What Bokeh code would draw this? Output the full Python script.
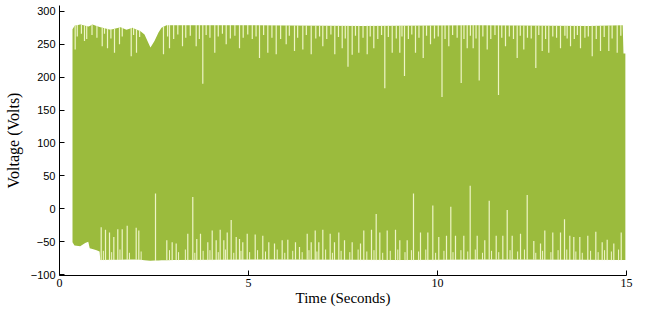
import numpy as np
from bokeh.plotting import figure
from bokeh.models import FixedTicker, Range1d, ColumnDataSource
from bokeh.embed import file_html
from bokeh.resources import INLINE

# ---- data ----
upper_t = [0.344, 0.397, 0.556, 0.767, 0.873, 1.085, 1.349, 1.614, 1.772, 1.931, 2.143,
           2.249, 2.407, 2.513, 2.619, 2.698, 2.831, 5.0, 8.0, 11.0, 14.0, 14.90, 14.92, 14.97]
upper_v = [273, 278, 280, 277, 280, 276, 272, 276, 272, 275, 270,
           265, 245, 255, 268, 275, 279, 279, 278, 279, 278, 279, 236, 236]

lower_t = [0.344, 0.40, 0.55, 0.68, 0.76, 0.80, 0.98, 1.06, 1.08, 2.0, 2.4, 3.0, 6.0, 9.0, 12.0, 14.97]
lower_v = [-51, -56, -57, -52, -50, -60, -63, -65, -78, -77, -79, -78, -77, -78, -77, -78]

top_dip_t = [0.415, 0.661, 1.130, 1.270, 1.455, 1.587, 1.897, 2.037, 2.751, 2.910, 3.254,
             3.616, 3.791, 4.108, 4.410, 4.762, 5.291, 5.511, 5.733, 5.997, 6.217, 6.437,
             6.659, 6.966, 7.283, 7.479, 7.632, 7.743, 7.918, 8.140, 8.315, 8.606, 8.802,
             9.003, 9.127, 9.418, 9.622, 9.815, 10.119, 10.299, 10.627, 10.786, 10.944,
             11.103, 11.315, 11.614, 11.799, 12.108, 12.283, 12.601, 12.770, 12.944,
             13.254, 13.519, 13.783, 14.093, 14.312, 14.532, 14.754]
top_dip_v = [242, 255, 247, 244, 237, 250, 232, 237, 235, 244, 247,
             247, 190, 237, 250, 244, 229, 237, 235, 250, 240, 242,
             235, 247, 235, 244, 216, 234, 237, 235, 244, 183, 237,
             237, 202, 237, 229, 250, 170, 247, 191, 244, 244,
             195, 242, 173, 247, 229, 242, 214, 240, 237,
             244, 247, 244, 232, 240, 240, 237]

minor_top_t = [0.47, 0.58, 0.72, 0.86, 0.99, 1.19, 1.36, 1.66, 1.96, 2.12, 2.86, 3.02, 3.13,
               3.34, 3.46, 3.70, 3.88, 3.98, 4.20, 4.31, 4.52, 4.64, 4.86, 4.98, 5.10, 5.20,
               5.40, 5.62, 5.85, 6.08, 6.30, 6.53, 6.78, 6.88, 7.07, 7.18, 7.38, 7.56, 7.83,
               8.03, 8.22, 8.42, 8.52, 8.70, 8.91, 9.06, 9.23, 9.32, 9.51, 9.71, 9.92, 10.02,
               10.20, 10.40, 10.52, 10.70, 10.87, 11.02, 11.20, 11.41, 11.52, 11.70, 11.90,
               12.01, 12.19, 12.38, 12.48, 12.68, 12.86, 13.05, 13.15, 13.37, 13.43, 13.62,
               13.70, 13.90, 13.99, 14.20, 14.41, 14.62, 14.85]
minor_top_v = [262, 266, 258, 264, 260, 266, 259, 262, 264, 261, 262, 258, 265,
               260, 263, 258, 264, 260, 262, 266, 259, 263, 260, 265, 258, 262,
               264, 260, 258, 263, 260, 264, 259, 262, 258, 265, 261, 259, 263,
               260, 262, 258, 264, 261, 259, 262, 258, 265, 260, 263, 259, 262,
               258, 264, 260, 258, 263, 259, 262, 258, 264, 260, 262,
               258, 263, 260, 259, 264, 258, 262, 260, 263, 259, 258,
               264, 260, 262, 258, 261, 259, 263]

bot_spike_t = [1.103, 1.217, 1.323, 1.437, 1.542, 1.659, 1.791, 2.029, 2.098, 2.540, 2.839,
               2.981, 3.087, 3.394, 3.526, 3.632, 3.730, 3.923, 4.040, 4.145, 4.251, 4.347,
               4.437, 4.542, 4.675, 4.762, 4.849, 4.966, 5.177, 5.378, 5.537, 5.688, 5.891,
               6.040, 6.243, 6.349, 6.553, 6.659, 6.765, 6.860, 6.966, 7.161, 7.275, 7.389,
               7.540, 7.743, 7.963, 8.050, 8.254, 8.378, 8.474, 8.669, 8.889, 9.003, 9.198,
               9.365, 9.550, 9.744, 9.876, 10.034, 10.238, 10.352, 10.476, 10.696, 10.865,
               11.050, 11.251, 11.368, 11.553, 11.728, 11.844, 11.976, 12.196, 12.373,
               12.548, 12.725, 12.839, 13.050, 13.254, 13.360, 13.500, 13.606, 13.765,
               13.976, 14.188, 14.357, 14.489, 14.664, 14.860]
bot_spike_v = [-28, -32, -36, -43, -31, -31, -26, -29, -33, 23, -48,
               -51, -53, -38, 18, -46, -38, -51, -33, -48, -32, -48,
               -36, -17, -43, -46, -51, -38, -39, -41, -51, -53, -48,
               -47, -51, -58, -38, -51, -33, -51, -32, -38, -51, -36,
               -48, -51, -53, -33, -32, -8, -36, -33, -32, -48, -48,
               23, -36, -36, 5, -43, -41, 3, -41, -41, 35,
               -41, -48, 12, -41, -41, -2, -41, -38, 21,
               -49, -53, -33, -36, -36, -16, -41, -43, -43,
               -41, -35, -51, -47, -53, -36]

minor_bot_t = [1.16, 1.38, 1.60, 1.85, 2.16, 2.91, 3.15, 3.33, 3.58, 3.80, 3.98, 4.20,
               4.39, 4.61, 4.80, 5.03, 5.24, 5.45, 5.76, 5.96, 6.17, 6.42, 6.60, 6.81,
               7.04, 7.22, 7.45, 7.68, 7.90, 8.13, 8.32, 8.55, 8.75, 8.95, 9.14, 9.31,
               9.50, 9.69, 9.95, 10.17, 10.41, 10.62, 10.80, 11.00, 11.19, 11.43, 11.62,
               11.92, 12.12, 12.30, 12.60, 12.78, 13.00, 13.19, 13.42, 13.66, 13.83, 14.05,
               14.25, 14.42, 14.60, 14.79]
minor_bot_v = [-64, -66, -62, -67, -65, -63, -66, -62, -67, -64, -63, -66,
               -62, -67, -64, -66, -63, -65, -62, -67, -64, -66, -63, -65,
               -62, -67, -64, -66, -62, -65, -63, -67, -64, -62, -66, -63,
               -65, -62, -67, -64, -66, -63, -65, -62, -67, -64, -66,
               -63, -65, -62, -67, -64, -66, -63, -62, -65, -67, -64,
               -66, -63, -65, -62]

x_ticks = [0, 5, 10, 15]
y_ticks = [-100, -50, 0, 50, 100, 150, 200, 250, 300]

GREEN = "#9BBB3D"
PALE = "#EEF5C6"

p = figure(width=636, height=308, output_backend="svg", toolbar_location=None,
           x_range=Range1d(0, 15), y_range=Range1d(-101.5, 309),
           min_border_left=59, min_border_right=10, min_border_top=5, min_border_bottom=33,
           background_fill_color="white", border_fill_color="white")
p.outline_line_color = None
p.grid.visible = False

grid_t = np.array(sorted(set(upper_t) | set(lower_t)))
up_i = np.interp(grid_t, upper_t, upper_v)
lo_i = np.interp(grid_t, lower_t, lower_v)
p.varea(x=grid_t, y1=lo_i, y2=up_i, fill_color=GREEN, fill_alpha=1.0)

# drop-outs at the top (cycles whose peak fell short)
tt = np.array(top_dip_t + minor_top_t)
tv = np.array(top_dip_v + minor_top_v)
src_top = ColumnDataSource(dict(x=tt, y0=tv, y1=np.interp(tt, upper_t, upper_v) + 0.5))
p.segment(x0="x", y0="y0", x1="x", y1="y1", source=src_top, line_color=PALE, line_width=1.2)

# spikes at the bottom (cycles whose trough fell short)
src_bot = ColumnDataSource(dict(x=np.array(bot_spike_t),
                                y0=np.interp(bot_spike_t, lower_t, lower_v) - 0.5,
                                y1=np.array(bot_spike_v)))
p.segment(x0="x", y0="y0", x1="x", y1="y1", source=src_bot, line_color=PALE, line_width=1.2)
src_bot2 = ColumnDataSource(dict(x=np.array(minor_bot_t),
                                 y0=np.interp(minor_bot_t, lower_t, lower_v) - 0.5,
                                 y1=np.array(minor_bot_v)))
p.segment(x0="x", y0="y0", x1="x", y1="y1", source=src_bot2, line_color=PALE, line_width=1.0)

p.xaxis.ticker = FixedTicker(ticks=x_ticks)
p.yaxis.ticker = FixedTicker(ticks=y_ticks)
for ax in (p.xaxis[0], p.yaxis[0]):
    ax.axis_line_color = "black"
    ax.major_tick_line_color = "black"
    ax.major_tick_in = 5
    ax.major_tick_out = 0
    ax.minor_tick_line_color = None
    ax.major_label_text_color = "black"
    ax.axis_label_text_color = "black"
    ax.axis_label_text_font = "Liberation Serif"
    ax.axis_label_text_font_style = "normal"

p.xaxis.axis_label = "Time (Seconds)"
p.yaxis.axis_label = "Voltage (Volts)"
p.xaxis.major_label_text_font = "Liberation Serif"
p.xaxis.major_label_text_font_size = "12px"
p.xaxis.major_label_standoff = 3
p.xaxis.axis_label_standoff = 0
p.xaxis.axis_label_text_font_size = "15px"
p.yaxis.axis_label_text_font_size = "16px"
p.yaxis.major_label_text_font = "Liberation Sans"
p.yaxis.major_label_text_font_size = "11px"
p.yaxis.major_label_standoff = 4
p.yaxis.axis_label_standoff = 6

open("out.html", "w").write(file_html(p, INLINE))
